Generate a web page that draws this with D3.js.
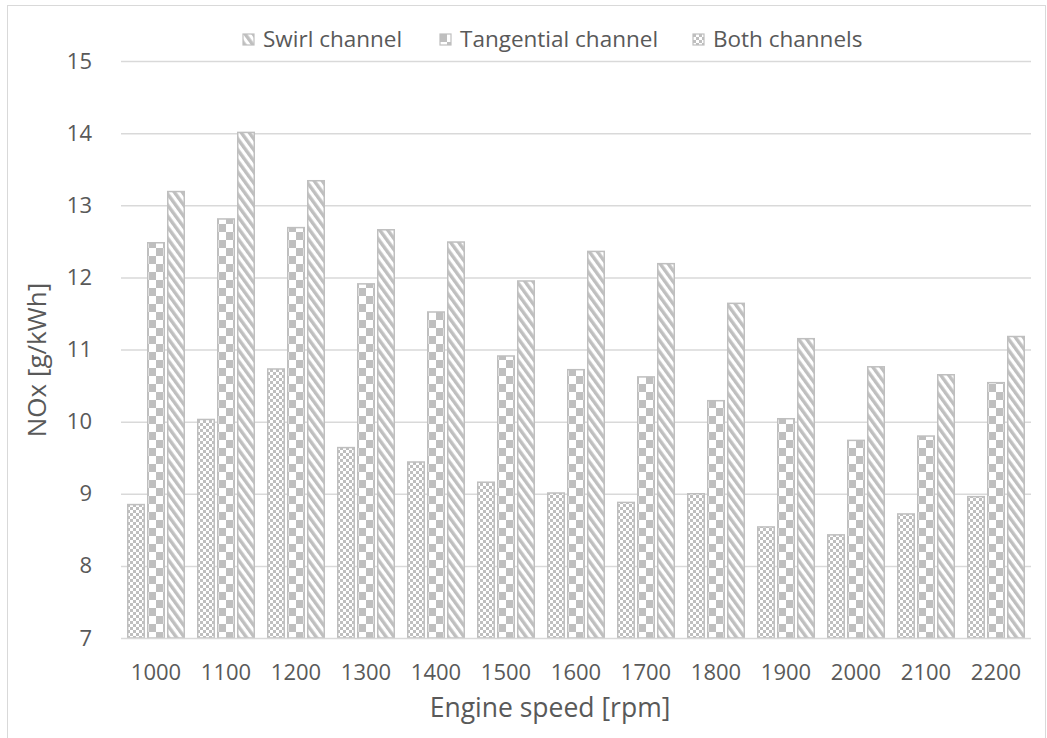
<!DOCTYPE html>
<html><head><meta charset="utf-8">
<script src="https://cdn.jsdelivr.net/npm/d3@7"></script>
<style>
html,body{margin:0;padding:0;background:#fff;}
text{font-family:"Open Sans",sans-serif;fill:#595959;}
</style></head>
<body>
<svg id="chart" width="1047" height="738"></svg>
<script>
const categories = ["1000","1100","1200","1300","1400","1500","1600","1700","1800","1900","2000","2100","2200"];
const bothChannels = [8.85, 10.03, 10.73, 9.64, 9.44, 9.16, 9.01, 8.88, 9.00, 8.54, 8.43, 8.72, 8.96];
const tangentialChannel = [12.48, 12.81, 12.69, 11.91, 11.52, 10.91, 10.72, 10.62, 10.29, 10.04, 9.74, 9.80, 10.54];
const swirlChannel = [13.19, 14.01, 13.34, 12.66, 12.49, 11.95, 12.36, 12.19, 11.64, 11.15, 10.76, 10.65, 11.18];
const yTicks = [7, 8, 9, 10, 11, 12, 13, 14, 15];
const seriesNames = ["Both channels", "Tangential channel", "Swirl channel"];
const legendOrder = ["Swirl channel", "Tangential channel", "Both channels"];

const svg = d3.select("#chart");
const grey = "#bfbfbf";

const defs = svg.append("defs");
let p = defs.append("pattern").attr("id","pBoth").attr("patternUnits","userSpaceOnUse").attr("width",6).attr("height",6);
p.append("rect").attr("width",6).attr("height",6).attr("fill","#fff");
p.append("rect").attr("width",3).attr("height",3).attr("fill",grey);
p.append("rect").attr("x",3).attr("y",3).attr("width",3).attr("height",3).attr("fill",grey);
p = defs.append("pattern").attr("id","pTang").attr("patternUnits","userSpaceOnUse").attr("width",14).attr("height",16);
p.append("rect").attr("width",14).attr("height",16).attr("fill","#fff");
p.append("rect").attr("width",7).attr("height",8).attr("fill",grey);
p.append("rect").attr("x",7).attr("y",8).attr("width",7).attr("height",8).attr("fill",grey);
p = defs.append("pattern").attr("id","pSwirl").attr("patternUnits","userSpaceOnUse").attr("width",6.5).attr("height",6.5)
  .attr("patternTransform","rotate(-36)");
p.append("rect").attr("width",6.5).attr("height",6.5).attr("fill","#fff");
p.append("rect").attr("width",3.4).attr("height",6.5).attr("fill",grey);

const fills = {"Both channels":"url(#pBoth)","Tangential channel":"url(#pTang)","Swirl channel":"url(#pSwirl)"};
const dataBy = {"Both channels":bothChannels,"Tangential channel":tangentialChannel,"Swirl channel":swirlChannel};

svg.append("rect").attr("x",7.5).attr("y",5.5).attr("width",1038).attr("height",740).attr("fill","none").attr("stroke","#d9d9d9");

const x = d3.scaleBand().domain(categories).range([121,1031]).padding(0);
const xs = d3.scaleBand().domain(seriesNames).range([6,66]).padding(0);
const y = d3.scaleLinear().domain([7,15]).range([638,61]);

svg.append("g").selectAll("line").data(yTicks.filter(t=>t>7)).join("line")
  .attr("x1",121).attr("x2",1031).attr("y1",d=>y(d)+0.5).attr("y2",d=>y(d)+0.5)
  .attr("stroke","#d9d9d9").attr("stroke-width",1.5);

const rows = categories.map((c,i)=>({c, vals: seriesNames.map(s=>({s, v: dataBy[s][i]}))}));
const groups = svg.append("g").selectAll("g").data(rows).join("g").attr("transform",d=>`translate(${x(d.c)},0)`);
groups.selectAll("rect").data(d=>d.vals).join("rect")
  .attr("x",d=>xs(d.s)+0.75).attr("width",xs.bandwidth()-3.5)
  .attr("y",d=>y(d.v)).attr("height",d=>y(7)-y(d.v))
  .attr("fill",d=>fills[d.s]).attr("stroke",grey).attr("stroke-width",1.5);

svg.append("line").attr("x1",121).attr("x2",1031).attr("y1",638.5).attr("y2",638.5).attr("stroke","#d9d9d9").attr("stroke-width",1.5);

const ya = svg.append("g").attr("transform","translate(92,0)")
  .call(d3.axisLeft(y).tickValues(yTicks).tickSize(0).tickPadding(0).tickFormat(d3.format("d")));
ya.select(".domain").remove();
ya.selectAll("text").style("font-size","22px").attr("fill","#595959").style("font-family","'Open Sans',sans-serif");

const xa = svg.append("g").attr("transform","translate(0,638)")
  .call(d3.axisBottom(x).tickSize(0).tickPadding(26));
xa.select(".domain").remove();
xa.selectAll("text").style("font-size","22px").attr("fill","#595959").style("font-family","'Open Sans',sans-serif");

svg.append("text").attr("x",550).attr("y",717).attr("text-anchor","middle").style("font-size","26.5px").text("Engine speed [rpm]");
svg.append("text").attr("transform","translate(46,360) rotate(-90)").attr("text-anchor","middle").style("font-size","26px").text("NOx [g/kWh]");

const legX = {"Swirl channel":243, "Tangential channel":440, "Both channels":693};
const leg = svg.append("g").selectAll("g").data(legendOrder).join("g").attr("transform",d=>`translate(${legX[d]},34)`);
leg.append("rect").attr("width",11).attr("height",11).attr("fill",d=>fills[d]).attr("stroke",grey).attr("stroke-width",1.2);
leg.append("text").attr("x",20).attr("y",13).style("font-size","22.5px").text(d=>d);
</script>
</body></html>
